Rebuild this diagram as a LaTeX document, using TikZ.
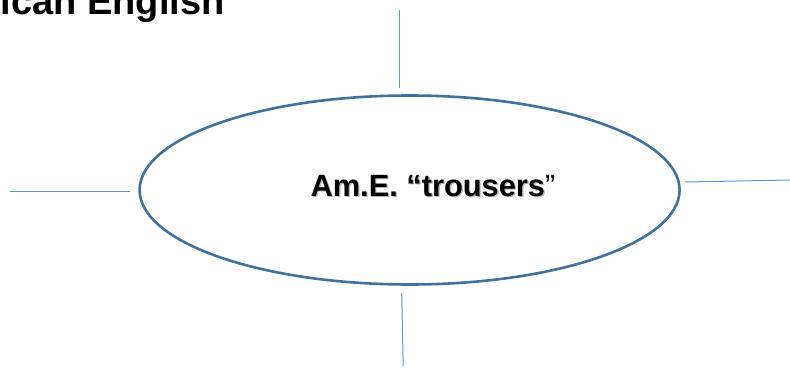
\documentclass[tikz,border=0pt]{standalone}
\usepackage{fontspec}
\setmainfont{Liberation Sans}
\usetikzlibrary{shapes.geometric}
\definecolor{ellblue}{HTML}{41719C}
\definecolor{lineblue}{HTML}{5B9BD5}
\tikzset{
  spoke/.style={draw=lineblue,line width=1pt},
  bubble/.style={ellipse,draw=ellblue,line width=2.6pt,minimum width=540pt,minimum height=189pt,inner sep=0pt},
  lbl/.style={inner sep=0pt,outer sep=0pt}
}
\begin{document}
\begin{tikzpicture}[x=1pt,y=-1pt]
\useasboundingbox (0,0) rectangle (790,367);
\clip (0,0) rectangle (790,367);
\node[lbl,anchor=base east,font=\fontsize{38}{40}\selectfont\bfseries] (title) at (224.5,14.3) {ican English};
\node[bubble] (e) at (409.6,190) {};
\node[lbl,anchor=base west,text=black!30,font=\fontsize{30.8}{32}\selectfont\bfseries] (shadow) at (311.8,197.2) {Am.E. “trousers};
\node[lbl,anchor=base west,font=\fontsize{30.8}{32}\selectfont\bfseries] (txt) at (310.6,196) {Am.E. “trousers};
\node[lbl,anchor=base west,font=\fontsize{30.8}{32}\selectfont] (q) at (txt.base east) {”};
\coordinate (t1) at (399,10);
\coordinate (t2) at (399,88);
\coordinate (l1) at (10,191.5);
\coordinate (l2) at (130,191.5);
\coordinate (r1) at (685,182);
\coordinate (r2) at (790,180);
\coordinate (b1) at (401.7,293);
\coordinate (b2) at (403.2,366);
\draw[spoke] (t1) -- (t2);
\draw[spoke] (l1) -- (l2);
\draw[spoke] (r1) -- (r2);
\draw[spoke] (b1) -- (b2);
\end{tikzpicture}
\end{document}
